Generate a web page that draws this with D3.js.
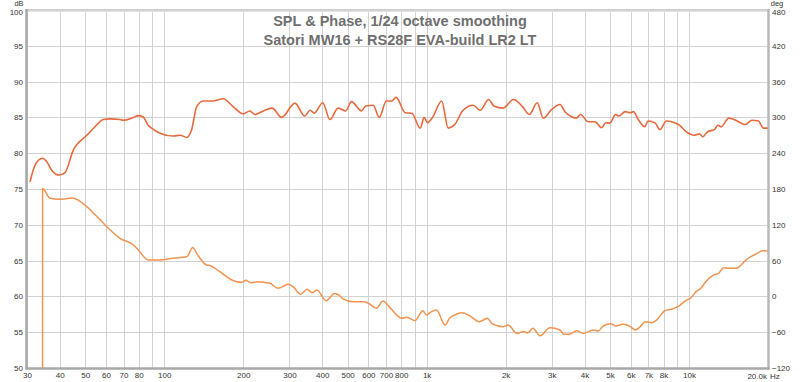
<!DOCTYPE html>
<html><head><meta charset="utf-8">
<script src="https://cdn.jsdelivr.net/npm/d3@7"></script>
<style>
html,body{margin:0;padding:0;background:#fff;}
svg{display:block;}
</style></head>
<body><svg id="chart" width="800" height="382"></svg>
<script>
const titleLines = ["SPL & Phase, 1/24 octave smoothing", "Satori MW16 + RS28F EVA-build LR2 LT"];

const splFreq = [30.8,32.2,34.4,35.7,37.3,39.8,41.9,45,50.7,54.5,58.6,62.1,67.8,70,76.3,79.7,83,86.9,89.5,96.4,108,115,122,127,133,141,154,168,183,200,212,222,231,258,280,315,343,360,373,402,428,460,492,517,565,587,626,660,702,737,765,829,879,945,979,1007,1050,1141,1209,1280,1377,1506,1600,1724,1805,1958,2143,2320,2464,2640,2784,2994,3225,3366,3570,3730,3855,4134,4380,4645,4820,4990,5253,5400,5713,5970,6140,6407,6786,6980,7440,7740,8200,8820,9210,9750,10500,10960,11280,11770,12500,12880,13260,14170,15080,16370,17370,18380,19220,19950];
const splDb = [76.0,78.35,79.3,78.8,77.6,76.95,77.3,80.4,82.5,83.7,84.7,84.8,84.7,84.6,85.0,85.25,85.1,83.9,83.5,82.8,82.4,82.5,82.2,83.2,86.5,87.3,87.3,87.6,86.5,85.5,85.9,85.4,85.66,86.3,85.0,87.0,85.2,86.0,85.6,87.05,84.7,86.3,85.9,87.2,85.9,86.6,86.7,85.0,87.3,87.3,87.8,85.66,85.57,83.5,85.0,84.26,84.9,87.3,83.5,84.0,86.0,86.7,86.0,87.5,86.6,86.3,87.5,86.5,85.4,87.05,84.9,86.1,86.8,85.8,85.1,84.9,85.4,84.4,84.4,83.56,84.26,84.2,85.4,85.2,85.8,85.66,85.8,84.7,83.7,84.5,84.2,83.3,84.5,84.26,83.9,83.0,82.5,82.7,82.3,83.0,83.3,83.9,83.7,84.9,84.6,84.0,84.6,84.5,83.5,83.5];

const phaseFreq = [34.38,34.4,36.7,40,44.6,50.7,54.7,60.4,67.8,76.3,79.7,86.9,96.4,108,122,128.5,133,145,150,163,178,197,205,214,228,253,271,297,310,331,351,366,382,414,446,464,480,526,573,600,644,682,729,804,840,903,968,998,1044,1091,1175,1223,1306,1360,1465,1590,1704,1780,1958,2045,2210,2340,2430,2540,2708,2950,3225,3330,3480,3730,3960,4320,4510,4710,5050,5270,5580,5980,6240,6520,6810,7210,7530,8094,8580,9080,9750,10180,10630,11100,11580,12440,12970,13540,14130,15150,15800,16480,17440,18200,19000,19950];
const phaseDeg = [-125,181,164.4,162.8,164.9,150.4,136.4,116.8,97.4,86.2,77.8,61,61,64,66.5,82,72,52.6,51.5,41.4,29.2,23.6,27,23,24.6,22,13.6,20.3,16.3,3.6,12,6.2,10.7,-7.2,5,2,-4,-8.8,-8.8,-11.5,-20,-7.7,-20,-36.7,-35,-40.7,-24,-31,-25.6,-22.8,-48,-36.7,-29.5,-27.3,-33,-42.4,-36.7,-46,-50.7,-48,-62,-59,-61,-53.5,-66,-52.5,-56.3,-63.6,-63.6,-57.5,-62,-56.3,-58,-49.6,-46,-49.6,-46.7,-50.7,-56.3,-50.7,-42.4,-44,-39.5,-24,-21.6,-17.2,-6.5,-2.2,8,13.6,24.6,36,38.7,48,47,47,52.6,61,68,72.2,76.6,76];

const gridFreqs = [30,40,50,60,70,80,90,100,200,300,400,500,600,700,800,900,1000,2000,3000,4000,5000,6000,7000,8000,9000,10000,20000];
const freqTickValues = [30,40,50,60,70,80,100,200,300,400,500,600,700,800,1000,2000,3000,4000,5000,6000,7000,8000,10000];
const freqTickLabels = ["30","40","50","60","70","80","100","200","300","400","500","600","700","800","1k","2k","3k","4k","5k","6k","7k","8k","10k"];
const dbTicks = [50,55,60,65,70,75,80,85,90,95,100];
const degTicks = [-120,-60,0,60,120,180,240,300,360,420,480];

const L = 27, R = 768, T = 10, B = 368;
const svg = d3.select("#chart");
const x = d3.scaleLog().domain([30, 20000]).range([L, R]);
const yDb = d3.scaleLinear().domain([50, 100]).range([B, T]);
const yDeg = d3.scaleLinear().domain([-120, 480]).range([B, T]);

// grid
const grid = svg.append("g");
grid.selectAll("line.v").data(gridFreqs).join("line")
  .attr("x1", d => Math.round(x(d)) + 0.5).attr("x2", d => Math.round(x(d)) + 0.5)
  .attr("y1", T).attr("y2", B).attr("stroke", "#d2d2d2").attr("stroke-width", 1);
grid.selectAll("line.h").data(dbTicks).join("line")
  .attr("x1", L).attr("x2", R)
  .attr("y1", d => Math.round(yDb(d)) + 0.5).attr("y2", d => Math.round(yDb(d)) + 0.5)
  .attr("stroke", "#d2d2d2").attr("stroke-width", 1);

// frame
svg.append("line").attr("x1", L).attr("x2", R).attr("y1", T - 0.5).attr("y2", T - 0.5).attr("stroke", "#cfcfcf").attr("stroke-width", 1);
svg.append("line").attr("x1", L).attr("x2", R).attr("y1", T + 1.5).attr("y2", T + 1.5).attr("stroke", "#e4e4e4").attr("stroke-width", 1);
svg.append("line").attr("x1", L - 0.5).attr("x2", L - 0.5).attr("y1", T - 1).attr("y2", B + 1.5).attr("stroke", "#a8a8a8").attr("stroke-width", 2.5);
svg.append("line").attr("x1", R + 0.5).attr("x2", R + 0.5).attr("y1", T - 1).attr("y2", B + 1.5).attr("stroke", "#b8b8b8").attr("stroke-width", 2.5);
svg.append("line").attr("x1", L - 1.5).attr("x2", R + 1.5).attr("y1", B + 0.5).attr("y2", B + 0.5).attr("stroke", "#a8a8a8").attr("stroke-width", 2.5);

// curves
svg.append("defs").append("clipPath").attr("id", "clip")
  .append("rect").attr("x", L).attr("y", T).attr("width", R - L).attr("height", B - T);

const splData = splFreq.map((f, i) => [f, splDb[i]]);
const phData = phaseFreq.map((f, i) => [f, phaseDeg[i]]);

const plot = svg.append("g").attr("clip-path", "url(#clip)");
plot.append("path").datum(phData)
  .attr("fill", "none").attr("stroke", "#f29350").attr("stroke-width", 1.5).attr("stroke-linejoin", "round")
  .attr("d", d3.line().x(d => x(d[0])).y(d => yDeg(d[1])).curve(d3.curveMonotoneX));
plot.append("path").datum(splData)
  .attr("fill", "none").attr("stroke", "#e8693d").attr("stroke-width", 1.6).attr("stroke-linejoin", "round")
  .attr("d", d3.line().x(d => x(d[0])).y(d => yDb(d[1])).curve(d3.curveMonotoneX));

// axes
const font = "'Liberation Sans', Arial, sans-serif";
const xAxis = d3.axisBottom(x).tickValues(freqTickValues).tickFormat((d, i) => freqTickLabels[i]).tickSize(0).tickPadding(4);
const gx = svg.append("g").attr("transform", `translate(0,${B})`).call(xAxis);
gx.select(".domain").remove();
gx.selectAll("text").attr("font-family", font).attr("font-size", 8).attr("fill", "#333");

svg.append("text").attr("x", R - 1).attr("y", 379).attr("text-anchor", "end")
  .attr("font-family", font).attr("font-size", 8).attr("fill", "#333").text("20.0k");
svg.append("text").attr("x", R + 2).attr("y", 379).attr("text-anchor", "start")
  .attr("font-family", font).attr("font-size", 8).attr("fill", "#333").text("Hz");

const yAxisL = d3.axisLeft(yDb).tickValues(dbTicks).tickFormat(d3.format("d")).tickSize(0).tickPadding(3);
const gyl = svg.append("g").attr("transform", `translate(${L - 1},0)`).call(yAxisL);
gyl.select(".domain").remove();
gyl.selectAll("text").attr("font-family", font).attr("font-size", 8).attr("fill", "#333");
gyl.selectAll("text").filter(d => d === 100).attr("dy", "0.55em");

const yAxisR = d3.axisRight(yDeg).tickValues(degTicks).tickFormat(d3.format("d")).tickSize(0).tickPadding(3);
const gyr = svg.append("g").attr("transform", `translate(${R + 1},0)`).call(yAxisR);
gyr.select(".domain").remove();
gyr.selectAll("text").attr("font-family", font).attr("font-size", 8).attr("fill", "#333");
gyr.selectAll("text").filter(d => d === 480).attr("dy", "0.55em");

svg.append("text").attr("x", 19).attr("y", 6).attr("text-anchor", "middle")
  .attr("font-family", font).attr("font-size", 7.5).attr("fill", "#333").text("dB");
svg.append("text").attr("x", 777).attr("y", 6).attr("text-anchor", "middle")
  .attr("font-family", font).attr("font-size", 7.5).attr("fill", "#333").text("deg");

// title
svg.selectAll("text.title").data(titleLines).join("text").attr("class", "title")
  .attr("x", 400).attr("y", (d, i) => 26 + i * 19).attr("text-anchor", "middle")
  .attr("font-family", font).attr("font-weight", "bold").attr("font-size", 14.5)
  .attr("fill", "#6f6f6f").text(d => d);
</script></body></html>
